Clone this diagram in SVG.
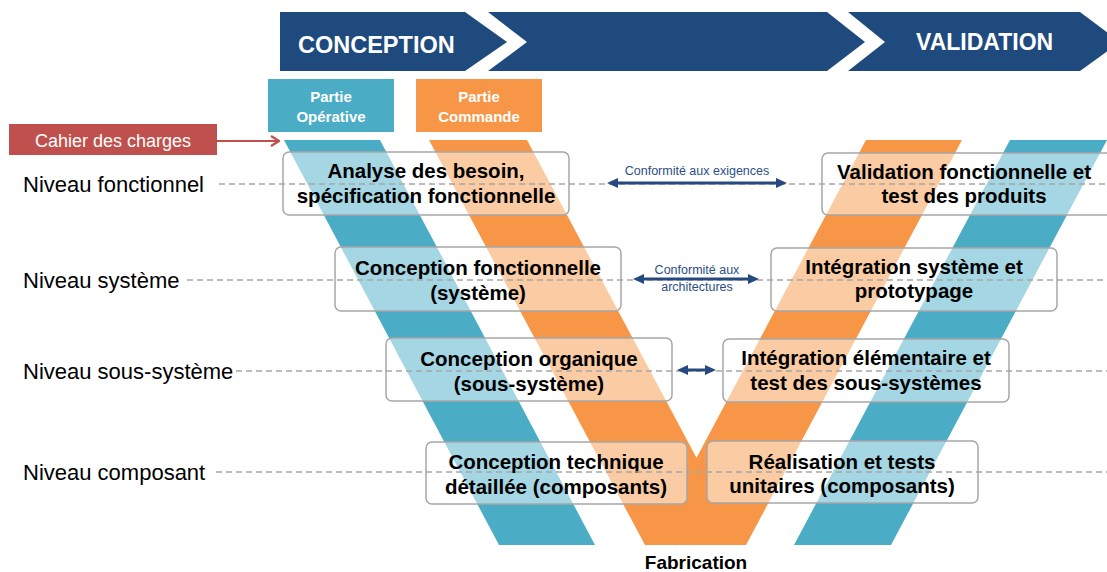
<svg xmlns="http://www.w3.org/2000/svg" width="1107" height="572" viewBox="0 0 1107 572">
<style>
.banner{fill:#1F4A7E}
.bt{font-family:"Liberation Sans",Arial,sans-serif;font-weight:bold;fill:#fff}
.blue{fill:#4BACC6}
.orange{fill:#F79646}
.box{fill:#fff;fill-opacity:0.5;stroke:#A6A6A6;stroke-width:1.5}
.bx{font-family:"Liberation Sans",Arial,sans-serif;font-weight:bold;font-size:20.5px;fill:#000;text-anchor:middle}
.lvl{font-family:"Liberation Sans",Arial,sans-serif;font-size:22px;fill:#000}
.dash{stroke:#A6A6A6;stroke-width:1.5;stroke-dasharray:6 4;fill:none}
.arr{stroke:#264A7F;stroke-width:3;fill:none;marker-start:url(#ah);marker-end:url(#ah)}
.cf{font-family:"Liberation Sans",Arial,sans-serif;font-size:12.5px;fill:#2B4F85;text-anchor:middle}
.pt{font-family:"Liberation Sans",Arial,sans-serif;font-weight:bold;font-size:15px;fill:#fff;text-anchor:middle}
</style>
<defs>
<marker id="ah" viewBox="0 0 11 10" refX="0" refY="5" markerWidth="11" markerHeight="10" markerUnits="userSpaceOnUse" orient="auto-start-reverse">
<path d="M0,0 L11,5 L0,10 z" fill="#264A7F"/>
</marker>
<marker id="rh" viewBox="0 0 10 12" refX="9" refY="6" markerWidth="10" markerHeight="12" markerUnits="userSpaceOnUse" orient="auto">
<path d="M1,1 L9,6 L1,11" fill="none" stroke="#C0504D" stroke-width="2.2"/>
</marker>
</defs>

<g id="banner">
<polygon class="banner" points="280,12 465,12 507,42 465,71 280,71"/>
<polygon class="banner" points="488,12 827,12 865,42 827,71 488,71 527,42"/>
<polygon class="banner" points="848,12 1080,12 1120,42 1080,71 848,71 885,42"/>
<text class="bt" x="298" y="53" font-size="23.5">CONCEPTION</text>
<text class="bt" x="916" y="50" font-size="23">VALIDATION</text>
</g>

<g id="stripes">
<polygon class="blue" points="284,140 380,140 595,545 499,545"/>
<polygon class="orange" points="429,140 527,140 743,545 645,545"/>
<polygon class="orange" points="866,140 962,140 746,545 650,545"/>
<polygon class="blue" points="1010,140 1107,140 891,545 794,545"/>
</g>

<g id="partie-operative">
<rect x="268" y="79" width="126" height="53" fill="#4BACC6"/>
<text class="pt" x="331" y="102">Partie</text>
<text class="pt" x="331" y="122">Opérative</text>
</g>
<g id="partie-commande">
<rect x="416" y="79" width="126" height="53" fill="#F79646"/>
<text class="pt" x="479" y="102">Partie</text>
<text class="pt" x="479" y="122">Commande</text>
</g>

<g id="cahier-des-charges">
<rect x="9" y="124" width="208" height="31" fill="#C0504D"/>
<text x="113" y="147" font-family="'Liberation Sans',Arial,sans-serif" font-size="18" fill="#fff" text-anchor="middle">Cahier des charges</text>
</g>

<g id="levels">
<text class="lvl" x="23" y="192">Niveau fonctionnel</text>
<text class="lvl" x="23" y="288">Niveau système</text>
<text class="lvl" x="23" y="379">Niveau sous-système</text>
<text class="lvl" x="23" y="480">Niveau composant</text>
</g>

<g id="n-analyse">
<rect class="box" x="283" y="152" width="286" height="63" rx="6"/>
<text class="bx" x="426" y="178">Analyse des besoin,</text>
<text class="bx" x="426" y="203">spécification fonctionnelle</text>
</g>
<g id="n-conception-fonctionnelle">
<rect class="box" x="335" y="247" width="286" height="64" rx="6"/>
<text class="bx" x="478" y="275">Conception fonctionnelle</text>
<text class="bx" x="478" y="300">(système)</text>
</g>
<g id="n-conception-organique">
<rect class="box" x="386" y="338" width="286" height="63" rx="6"/>
<text class="bx" x="529" y="366">Conception organique</text>
<text class="bx" x="529" y="391">(sous-système)</text>
</g>
<g id="n-conception-technique">
<rect class="box" x="426" y="442" width="261" height="62" rx="6"/>
<text class="bx" x="556" y="469">Conception technique</text>
<text class="bx" x="556" y="494">détaillée (composants)</text>
</g>
<g id="n-validation">
<rect class="box" x="822" y="153" width="290" height="62" rx="6"/>
<text class="bx" x="964" y="179">Validation fonctionnelle et</text>
<text class="bx" x="964" y="203">test des produits</text>
</g>
<g id="n-integration-systeme">
<rect class="box" x="771" y="248" width="286" height="63" rx="6"/>
<text class="bx" x="914" y="274">Intégration système et</text>
<text class="bx" x="914" y="298">prototypage</text>
</g>
<g id="n-integration-elementaire">
<rect class="box" x="723" y="339" width="286" height="63" rx="6"/>
<text class="bx" x="866" y="365">Intégration élémentaire et</text>
<text class="bx" x="866" y="390">test des sous-systèmes</text>
</g>
<g id="n-realisation">
<rect class="box" x="707" y="441" width="271" height="62" rx="6"/>
<text class="bx" x="842" y="469">Réalisation et tests</text>
<text class="bx" x="842" y="493">unitaires (composants)</text>
</g>

<g id="connectors">
<line class="dash" x1="219" y1="184" x2="1107" y2="184"/>
<line class="dash" x1="187" y1="280" x2="1107" y2="280"/>
<line class="dash" x1="236" y1="371" x2="1107" y2="371"/>
<line class="dash" x1="216" y1="472" x2="1107" y2="472"/>
<line x1="217" y1="141" x2="279" y2="141" stroke="#C0504D" stroke-width="2.2" marker-end="url(#rh)"/>
<line class="arr" x1="618" y1="183" x2="776" y2="183"/>
<line class="arr" x1="644" y1="279" x2="748" y2="279"/>
<line class="arr" x1="688" y1="370" x2="705" y2="370"/>
<text class="cf" x="697" y="175">Conformité aux exigences</text>
<text class="cf" x="697" y="274">Conformité aux</text>
<text class="cf" x="697" y="291">architectures</text>
</g>

<text x="696" y="569" font-family="'Liberation Sans',Arial,sans-serif" font-weight="bold" font-size="19" text-anchor="middle">Fabrication</text>
</svg>
